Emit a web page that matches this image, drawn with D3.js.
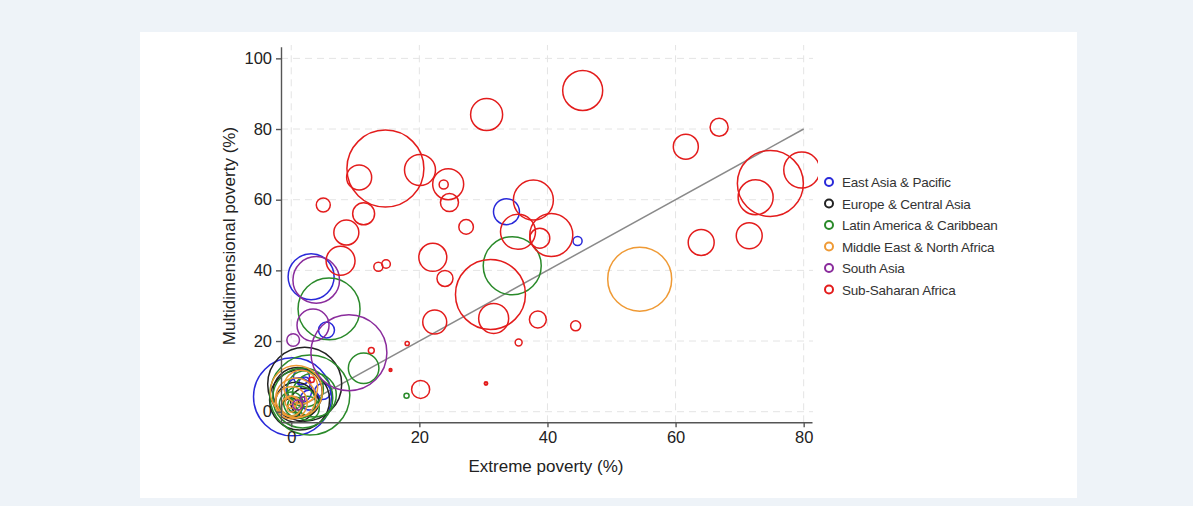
<!DOCTYPE html>
<html lang="en">
<head>
<meta charset="utf-8">
<title>Extreme vs multidimensional poverty</title>
<style>
  body { margin: 0; background: #eef3f8; font-family: 'Liberation Sans', Arial, sans-serif; }
  svg { display: block; }
  .grid line { stroke: #e4e4e4; stroke-dasharray: 7 5; }
  .axis path, .axis line { stroke: #555; stroke-width: 1.4; }
  .axis text { font-size: 16.5px; fill: #222; font-family: 'Liberation Sans', Arial, sans-serif; }
  .title { font-size: 17px; fill: #222; }
  .legend text { font-size: 13.5px; fill: #333; letter-spacing: -0.2px; }
</style>
</head>
<body>
<svg width="1193" height="506"></svg>
<script src="https://d3js.org/d3.v7.min.js"></script>
<script>
// regions and their points: [extreme poverty %, multidimensional poverty %, population (m)]
var regions = ['East Asia & Pacific', 'Europe & Central Asia', 'Latin America & Caribbean',
  'Middle East & North Africa', 'South Asia', 'Sub-Saharan Africa'];
var regionColors = ['#2929d9', '#222222', '#2a8a2a', '#ef9a35', '#8a2c9c', '#e31c1c'];

var eastAsia = [
  [0.2, 4.2, 1400], [33.6, 56.6, 155], [44.7, 48.3, 19], [3.1, 38.2, 487], [5.5, 23.1, 59],
  [1.6, 9.9, 59], [4.9, 5.7, 59], [2.1, 8.1, 33], [2.9, 3.3, 92], [1.2, 6.0, 150]
];
var europe = [
  [2.1, 7.8, 1260], [1.3, 3.3, 828], [0.7, 2.7, 368], [0.0, 1.0, 92], [2.1, 2.7, 180],
  [1.0, 5.5, 560]
];
var latinAmerica = [
  [34.5, 41.3, 774], [5.9, 29.1, 884], [11.3, 12.3, 215], [18.0, 4.5, 6],
  [2.9, 4.7, 1472], [1.8, 3.9, 828], [3.6, 4.7, 445], [1.3, 2.7, 236], [0.7, 1.9, 59],
  [2.5, 1.0, 132], [0.0, 2.2, 132], [2.2, 6.5, 300]
];
var middleEast = [
  [54.4, 37.5, 942], [0.8, 5.7, 622], [0.0, 2.5, 236], [0.0, 1.6, 92], [0.7, 3.9, 368],
  [0.0, 2.7, 33], [0.0, 1.0, 15], [1.5, 7.0, 260]
];
var southAsia = [
  [3.9, 37.3, 500], [3.4, 24.5, 236], [9.0, 16.7, 1328], [0.3, 20.3, 37],
  [1.8, 3.6, 4], [1.0, 1.9, 23]
];
var subSaharan = [
  [14.7, 68.8, 1364], [10.6, 66.3, 144], [20.1, 68.4, 221], [24.5, 64.4, 221], [23.8, 64.3, 19],
  [24.7, 59.2, 75], [5.0, 58.5, 45], [11.3, 56.0, 111], [8.6, 50.7, 144], [27.3, 52.3, 49],
  [30.5, 84.1, 236], [45.5, 90.9, 368], [61.6, 75.0, 144], [66.8, 80.5, 75], [74.8, 64.6, 1002],
  [72.5, 60.7, 282], [79.7, 68.4, 298], [71.5, 49.8, 155], [64.0, 47.9, 155], [35.4, 50.9, 282],
  [37.8, 59.9, 368], [40.6, 50.0, 425], [38.8, 49.1, 92], [31.1, 33.2, 1127], [31.6, 26.4, 207],
  [38.5, 26.1, 66], [44.4, 24.3, 23], [35.5, 19.6, 11], [30.4, 8.0, 2], [7.7, 42.7, 193],
  [22.1, 43.7, 180], [24.0, 37.7, 59], [13.6, 41.0, 19], [14.8, 41.8, 17], [22.4, 25.4, 132],
  [12.5, 17.3, 8], [18.1, 19.3, 4], [15.5, 11.8, 1.3], [20.2, 6.3, 75], [3.2, 9.0, 6]
];
var series = [eastAsia, europe, latinAmerica, middleEast, southAsia, subSaharan];

var xTicks = [0, 20, 40, 60, 80];
var yTicks = [0, 20, 40, 60, 80, 100];

var svg = d3.select('svg');

// white panel
svg.append('rect').attr('x', 140).attr('y', 32).attr('width', 937).attr('height', 466).attr('fill', '#fff');

var x = d3.scaleLinear().domain([-1.6, 81.3]).range([281, 812]);
var y = d3.scaleLinear().domain([-3, 103.3]).range([422.3, 46.7]);
var r = d3.scaleSqrt().domain([0, 1400]).range([0, 39]);
var color = d3.scaleOrdinal().domain(d3.range(regions.length)).range(regionColors);

// grid
var grid = svg.append('g').attr('class', 'grid');
grid.selectAll('.gx').data(xTicks).enter().append('line')
  .attr('x1', d => x(d)).attr('x2', d => x(d)).attr('y1', y.range()[0]).attr('y2', 45);
grid.selectAll('.gy').data(yTicks).enter().append('line')
  .attr('y1', d => y(d)).attr('y2', d => y(d)).attr('x1', x.range()[0]).attr('x2', 813);

svg.append('clipPath').attr('id', 'clip')
  .append('rect').attr('x', 0).attr('y', 0).attr('width', 818).attr('height', 506);

var plot = svg.append('g').attr('clip-path', 'url(#clip)');

// 45 degree line
plot.append('line')
  .attr('x1', x(0)).attr('y1', y(0)).attr('x2', x(80)).attr('y2', y(80))
  .attr('stroke', '#8a8a8a').attr('stroke-width', 1.5);

var points = [];
series.forEach(function (s, i) {
  s.forEach(function (p) { points.push({ ext: p[0], mpi: p[1], pop: p[2], reg: i }); });
});

plot.selectAll('circle.bubble').data(points).enter().append('circle')
  .attr('class', 'bubble')
  .attr('cx', d => x(d.ext))
  .attr('cy', d => y(d.mpi))
  .attr('r', d => Math.max(1, r(d.pop)))
  .attr('fill', 'none')
  .attr('stroke', d => color(d.reg))
  .attr('stroke-width', d => r(d.pop) < 2 ? 2 : 1.5);

// axes
svg.append('g').attr('class', 'axis')
  .attr('transform', 'translate(0,' + y.range()[0] + ')')
  .call(d3.axisBottom(x).tickValues(xTicks).tickSize(5).tickSizeOuter(0).tickPadding(4));

svg.append('g').attr('class', 'axis')
  .attr('transform', 'translate(' + x.range()[0] + ',0)')
  .call(d3.axisLeft(y).tickValues(yTicks).tickSize(5).tickSizeOuter(0).tickPadding(4));

svg.append('text').attr('class', 'title')
  .attr('x', 546).attr('y', 472).attr('text-anchor', 'middle')
  .text('Extreme poverty (%)');

svg.append('text').attr('class', 'title')
  .attr('transform', 'translate(235,236) rotate(-90)').attr('text-anchor', 'middle')
  .text('Multidimensional poverty (%)');

// legend
var legend = svg.append('g').attr('class', 'legend');
var rows = legend.selectAll('g').data(regions).enter().append('g')
  .attr('transform', (d, i) => 'translate(829,' + (182 + i * 21.5) + ')');
rows.append('circle').attr('r', 4).attr('fill', 'none')
  .attr('stroke', (d, i) => color(i)).attr('stroke-width', 2);
rows.append('text').attr('x', 13).attr('y', 5).text(d => d);
</script>
</body>
</html>
